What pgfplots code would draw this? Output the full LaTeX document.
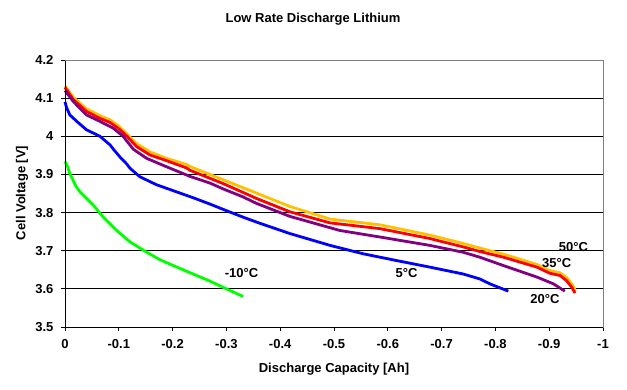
\documentclass[border=0pt]{standalone}
\usepackage{fontspec}
\setmainfont{Liberation Sans}
\usepackage{pgfplots}
\pgfplotsset{compat=1.18}
\definecolor{cyel}{HTML}{FFC000}
\definecolor{cred}{HTML}{FF0000}
\definecolor{cpur}{HTML}{800080}
\definecolor{cblu}{HTML}{0000FF}
\definecolor{cgrn}{HTML}{00FF00}
\begin{document}
\fontsize{13}{15}\selectfont
\begin{tikzpicture}
\useasboundingbox (-65pt,-63pt) rectangle (562pt,327pt);
\begin{axis}[
  at={(0,0)}, anchor=south west,
  scale only axis, width=538pt, height=267pt,
  xmin=-1, xmax=0, ymin=3.5, ymax=4.2,
  x dir=reverse,
  xtick={0,-0.1,-0.2,-0.3,-0.4,-0.5,-0.6,-0.7,-0.8,-0.9,-1},
  ytick={3.5,3.6,3.7,3.8,3.9,4.0,4.1,4.2},
  xticklabels={0,-0.1,-0.2,-0.3,-0.4,-0.5,-0.6,-0.7,-0.8,-0.9,-1},
  yticklabels={3.5,3.6,3.7,3.8,3.9,4,4.1,4.2},
  tick label style={font=\bfseries\fontsize{13}{15}\selectfont},
  xticklabel style={yshift=-4pt},
  yticklabel style={xshift=-3pt},
  /pgf/number format/assume math mode=true,
  tick align=outside, xtick pos=bottom, ytick pos=left,
  major tick length=4pt,
  tick style={black, line width=0.8pt},
  ymajorgrids, grid style={black, line width=0.9pt},
  axis line style={draw=gray, line width=0.9pt},
  clip=false,
  every axis plot/.append style={line width=2.8pt, line join=round, line cap=butt},
]
\addplot[cyel] coordinates {
(0,4.132) (-0.0155,4.102) (-0.04,4.072) (-0.065,4.054) (-0.084,4.043) (-0.099,4.028) (-0.115,4.006) (-0.133,3.981) (-0.158,3.959) (-0.189,3.942) (-0.226,3.926) (-0.232,3.921) (-0.294,3.886) (-0.356,3.851) (-0.418,3.816) (-0.4926,3.783) (-0.585,3.768) (-0.678,3.741) (-0.74,3.719) (-0.771,3.707) (-0.815,3.691) (-0.877,3.664) (-0.901,3.648) (-0.92,3.642) (-0.932,3.630) (-0.943,3.611) (-0.949,3.595)};
\addplot[cred] coordinates {
(0,4.128) (-0.0155,4.096) (-0.04,4.065) (-0.065,4.047) (-0.084,4.036) (-0.099,4.021) (-0.115,4.0) (-0.133,3.973) (-0.158,3.951) (-0.189,3.936) (-0.226,3.917) (-0.232,3.911) (-0.294,3.876) (-0.356,3.837) (-0.418,3.802) (-0.4926,3.773) (-0.585,3.758) (-0.678,3.732) (-0.74,3.71) (-0.771,3.698) (-0.815,3.683) (-0.877,3.657) (-0.901,3.641) (-0.92,3.635) (-0.932,3.622) (-0.942,3.604) (-0.948,3.589)};
\addplot[cpur] coordinates {
(0,4.12) (-0.0155,4.091) (-0.04,4.056) (-0.065,4.039) (-0.09,4.021) (-0.108,4.0) (-0.127,3.966) (-0.152,3.942) (-0.189,3.92) (-0.232,3.895) (-0.27,3.877) (-0.294,3.862) (-0.331,3.841) (-0.356,3.824) (-0.418,3.79) (-0.511,3.753) (-0.585,3.736) (-0.678,3.714) (-0.74,3.696) (-0.771,3.683) (-0.815,3.661) (-0.877,3.631) (-0.908,3.613) (-0.929,3.594)};
\addplot[cblu] coordinates {
(0,4.09) (-0.003,4.075) (-0.009,4.056) (-0.022,4.039) (-0.04,4.017) (-0.065,4.0) (-0.084,3.977) (-0.09,3.966) (-0.102,3.946) (-0.115,3.927) (-0.121,3.916) (-0.139,3.894) (-0.17,3.873) (-0.208,3.854) (-0.238,3.839) (-0.27,3.822) (-0.30,3.805) (-0.331,3.788) (-0.362,3.772) (-0.418,3.745) (-0.4926,3.714) (-0.554,3.692) (-0.617,3.674) (-0.678,3.657) (-0.74,3.639) (-0.771,3.626) (-0.79,3.613) (-0.824,3.594)};
\addplot[cgrn] coordinates {
(0,3.934) (-0.005,3.92) (-0.009,3.902) (-0.015,3.885) (-0.019,3.872) (-0.028,3.854) (-0.053,3.819) (-0.071,3.788) (-0.096,3.753) (-0.121,3.723) (-0.146,3.701) (-0.177,3.676) (-0.208,3.657) (-0.238,3.639) (-0.27,3.62) (-0.30,3.6) (-0.331,3.58)};
\draw[black, line width=0.9pt] (rel axis cs:0,1) -- (rel axis cs:0,0) -- (rel axis cs:1,0);
\draw[gray, line width=0.9pt] (rel axis cs:0,1) -- (rel axis cs:1,1);
\node[font=\bfseries] at (axis description cs:0.328,0.201) {-10°C};
\node[font=\bfseries] at (axis description cs:0.635,0.203) {5°C};
\node[font=\bfseries] at (axis description cs:0.945,0.300) {50°C};
\node[font=\bfseries] at (axis description cs:0.914,0.240) {35°C};
\node[font=\bfseries] at (axis description cs:0.892,0.105) {20°C};
\node[font=\bfseries] at (axis description cs:0.461,1.154) {Low Rate Discharge Lithium};
\node[font=\bfseries] at (axis description cs:0.5,-0.157) {Discharge Capacity [Ah]};
\node[font=\bfseries, rotate=90] at (axis description cs:-0.080,0.502) {Cell Voltage [V]};
\end{axis}
\end{tikzpicture}
\end{document}
